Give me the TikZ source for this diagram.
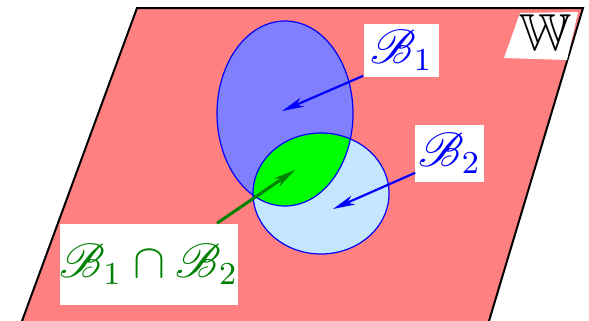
\documentclass[tikz,border=0pt]{standalone}
\usepackage{graphicx}
\usepackage{amssymb}
\usepackage{mathrsfs}
\usetikzlibrary{arrows.meta,calc}
\definecolor{salmon}{RGB}{255,128,128}
\definecolor{bone}{RGB}{128,128,255}
\definecolor{btwo}{RGB}{196,230,255}
\definecolor{gfill}{RGB}{0,255,0}
\definecolor{gdark}{RGB}{0,128,0}
\tikzset{
  lbl/.style={fill=white, inner sep=0pt, anchor=center},
  ptr/.style={-{Stealth[length=5.5pt,width=2.4pt,inset=1.6pt]}, line width=0.55pt},
  setline/.style={draw=blue, line width=0.3pt}
}
\begin{document}
\begin{tikzpicture}[x=0.25pt,y=-0.25pt]
\useasboundingbox (0,0) rectangle (589,321);
% plane
\fill[salmon] (137,8) -- (583,8) -- (489,321) -- (22,321) -- cycle;
\draw[line width=0.5pt, line join=miter] (22,321) -- (137,8) -- (583,8) -- (489,321);
% sets
\fill[bone] (285,113.5) ellipse [x radius=68, y radius=92.5];
\fill[btwo] (321,193.5) ellipse [x radius=68, y radius=60.5];
\begin{scope}
  \clip (285,113.5) ellipse [x radius=68, y radius=92.5];
  \fill[gfill] (321,193.5) ellipse [x radius=68, y radius=60.5];
\end{scope}
\draw[setline] (285,113.5) ellipse [x radius=68, y radius=92.5];
\draw[setline] (321,193.5) ellipse [x radius=68, y radius=60.5];
% W label
\fill[white] (520,13) -- (578,12) -- (567,60) -- (504,58) -- cycle;
\node[inner sep=0pt] (w) at (545,33) {\scalebox{1.3}{$\mathbb{W}$}};
% labels
\node[lbl, minimum width=18.75pt, minimum height=13.25pt, text=blue] (b1) at (401.5,50.5) {\large$\mathscr{B}_1$};
\node[lbl, minimum width=17.25pt, minimum height=14.25pt, text=blue] (b2) at (449.5,153.5) {\large$\mathscr{B}_2$};
\node[lbl, minimum width=43.5pt, minimum height=20.25pt, text=gdark] (bb) at (149,264.5) {\large$\mathscr{B}_1\cap\mathscr{B}_2$};
% tips
\coordinate (t1) at (282,111);
\coordinate (t2) at (333,209);
\coordinate (t3) at (295,170);
\draw[ptr, blue] ($(b1.south west)+(0,-2)$) -- (t1);
\draw[ptr, blue] ($(b2.south west)+(1,-10)$) -- (t2);
\draw[ptr, gdark, line width=0.75pt] ($(bb.north east)+(-22,0)$) -- (t3);
\end{tikzpicture}
\end{document}
